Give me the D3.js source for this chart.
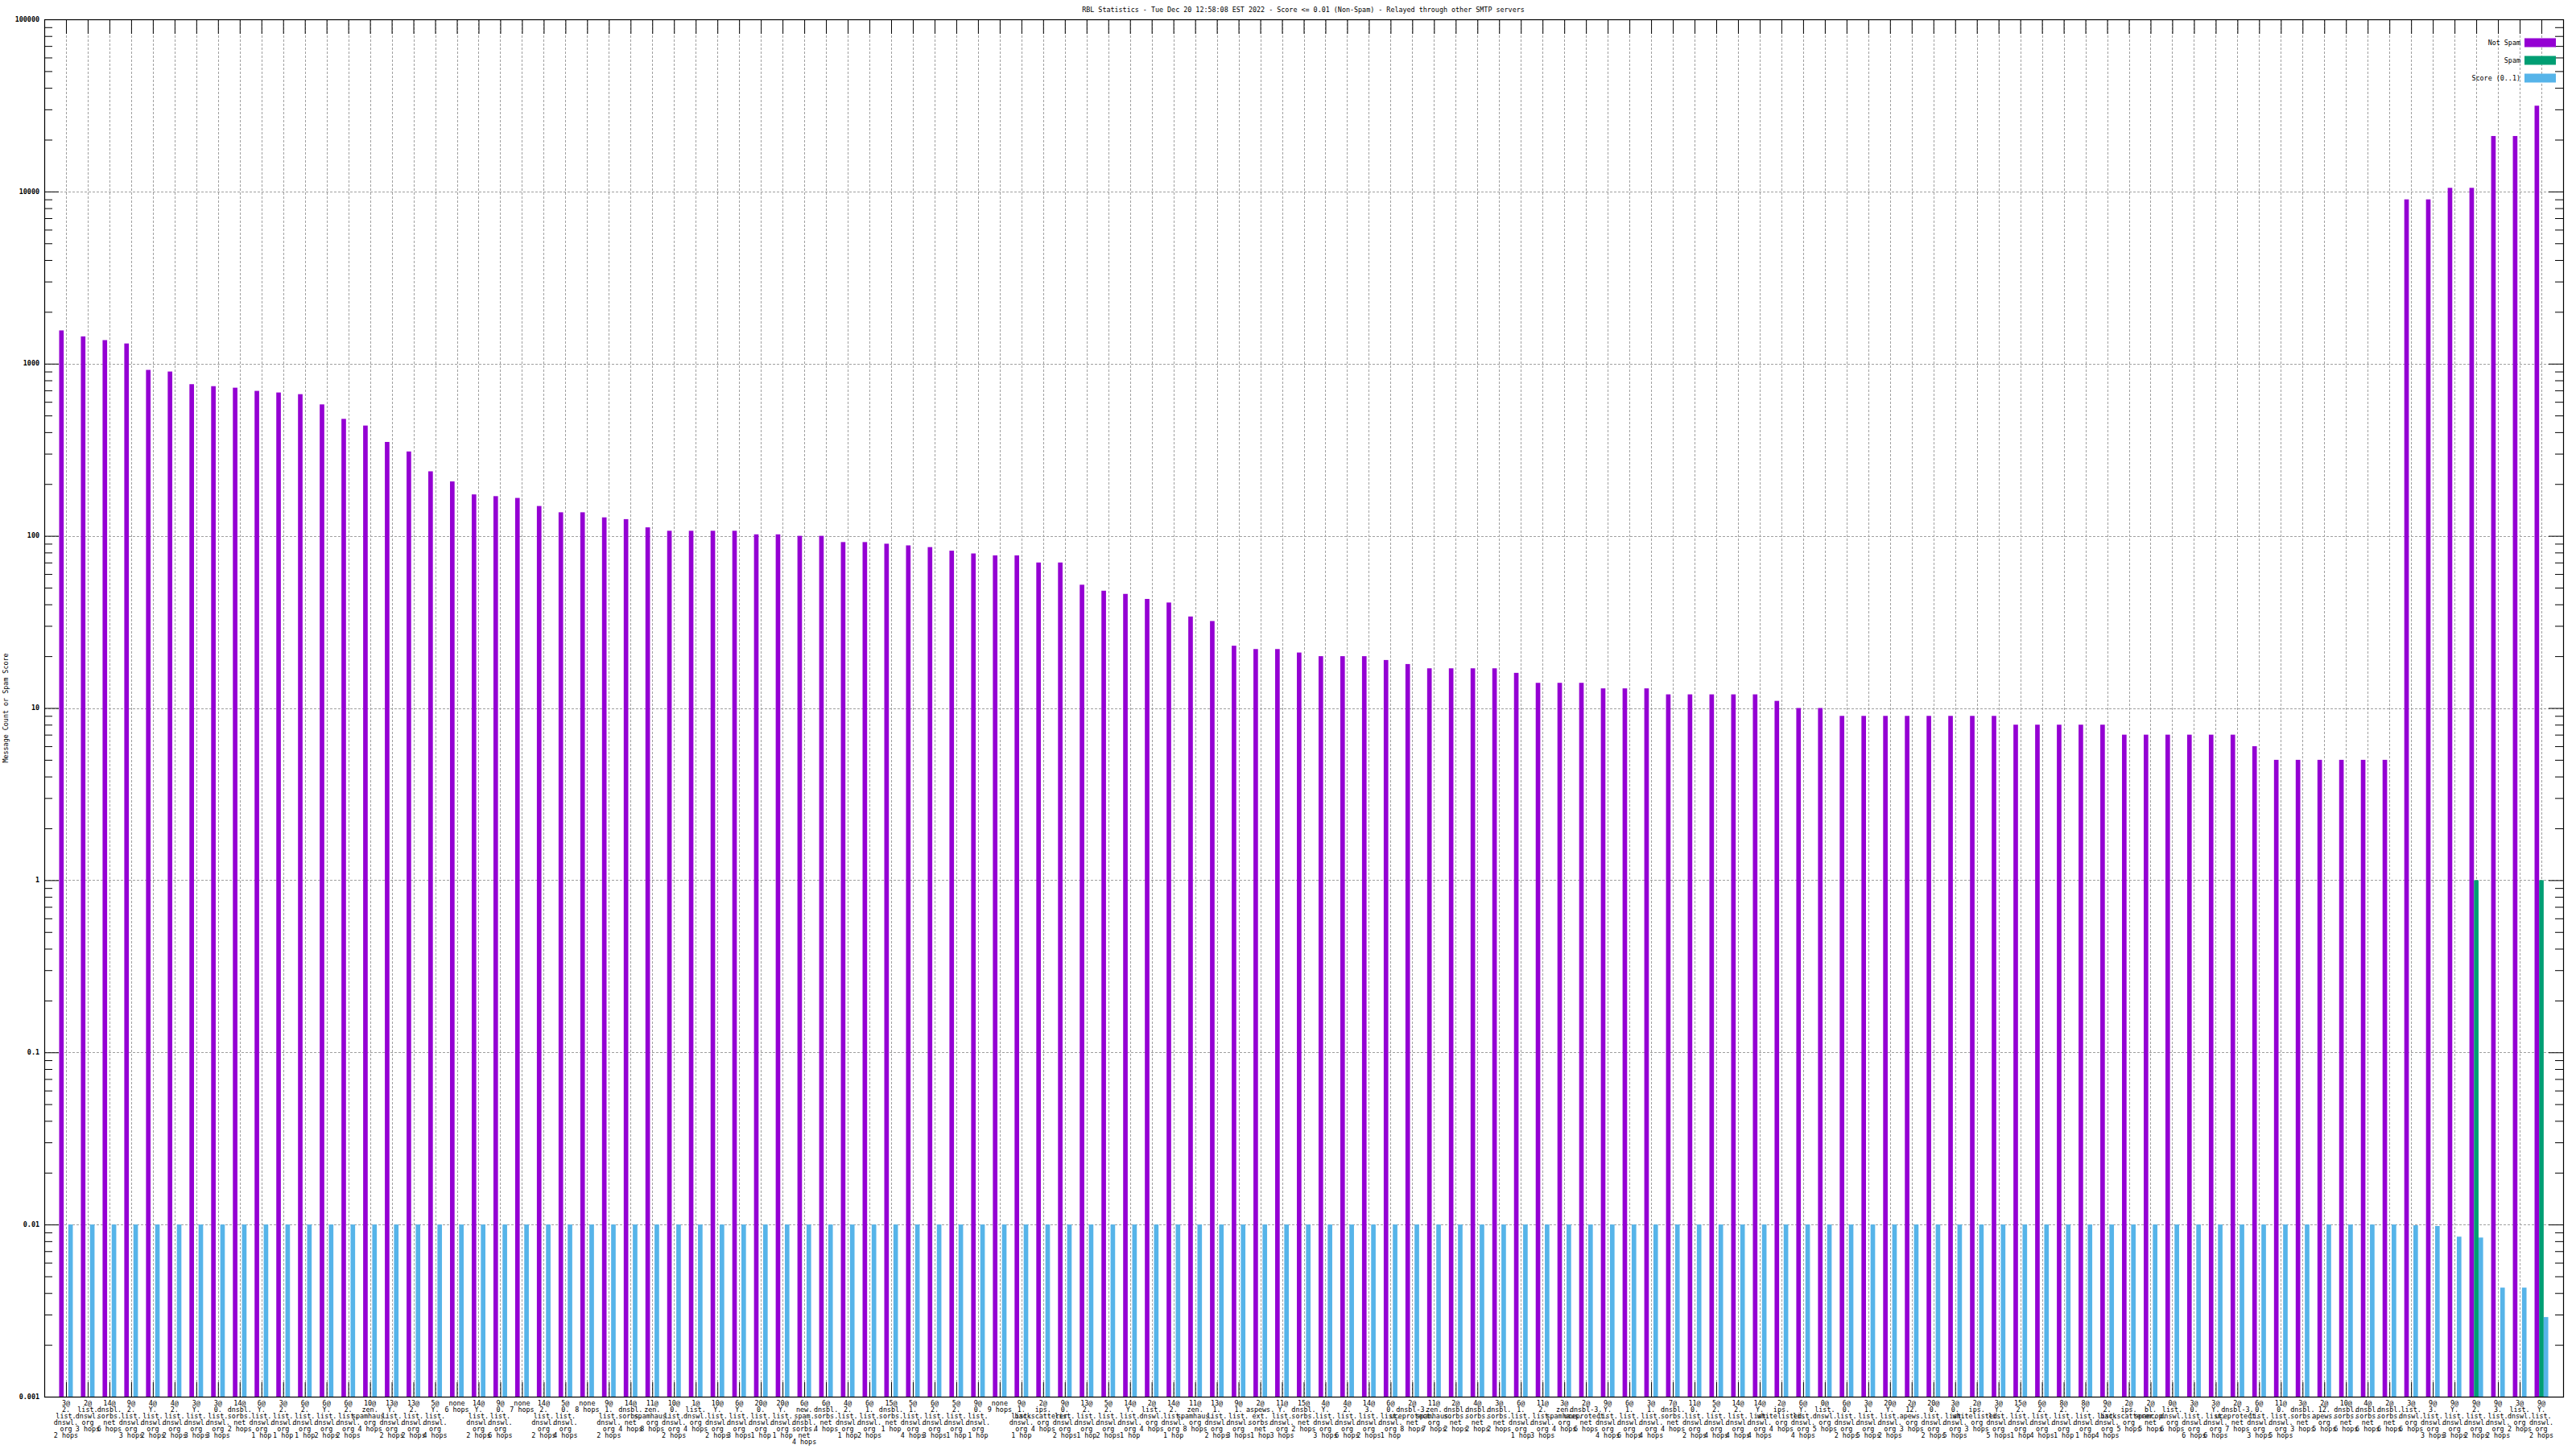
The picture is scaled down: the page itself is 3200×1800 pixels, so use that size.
<!DOCTYPE html>
<html><head><meta charset="utf-8">
<script src="https://cdn.jsdelivr.net/npm/d3@7"></script>
<style>
body{margin:0;background:#fff}
svg{display:block}
text{font-family:"DejaVu Sans Mono",monospace;font-size:8.4px;fill:#000}
</style>
</head><body>
<svg id="c" width="3200" height="1800"></svg>
<script>
const titleText = "RBL Statistics - Tue Dec 20 12:58:08 EST 2022 - Score <= 0.01 (Non-Spam) - Relayed through other SMTP servers";
const yAxisTitle = "Message Count or Spam Score";

const categories = [
"3@ 2.list.dnswl.org 2 hops","2@ list.dnswl.org 3 hops","14@ dnsbl.sorbs.net 6 hops","9@ 2.list.dnswl.org 3 hops",
"4@ Y.list.dnswl.org 2 hops","4@ 2.list.dnswl.org 2 hops","3@ Y.list.dnswl.org 3 hops","3@ 0.list.dnswl.org 3 hops",
"14@ dnsbl.sorbs.net 2 hops","6@ Y.list.dnswl.org 1 hop","3@ 2.list.dnswl.org 1 hop","6@ 2.list.dnswl.org 1 hop",
"6@ Y.list.dnswl.org 2 hops","6@ 2.list.dnswl.org 2 hops","10@ zen.spamhaus.org 4 hops","13@ Y.list.dnswl.org 2 hops",
"13@ 2.list.dnswl.org 2 hops","5@ Y.list.dnswl.org 4 hops","none 6 hops","14@ Y.list.dnswl.org 2 hops",
"9@ 0.list.dnswl.org 6 hops","none 7 hops","14@ 2.list.dnswl.org 2 hops","5@ 0.list.dnswl.org 4 hops",
"none 8 hops","9@ 1.list.dnswl.org 2 hops","14@ dnsbl.sorbs.net 4 hops","11@ zen.spamhaus.org 8 hops",
"10@ 0.list.dnswl.org 2 hops","1@ list.dnswl.org 4 hops","10@ Y.list.dnswl.org 2 hops","6@ Y.list.dnswl.org 3 hops",
"20@ 0.list.dnswl.org 1 hop","20@ Y.list.dnswl.org 1 hop","6@ new.spam.dnsbl.sorbs.net 4 hops","6@ dnsbl.sorbs.net 4 hops",
"4@ 2.list.dnswl.org 1 hop","6@ 1.list.dnswl.org 2 hops","15@ dnsbl.sorbs.net 1 hop","5@ 1.list.dnswl.org 4 hops",
"6@ 2.list.dnswl.org 3 hops","5@ 2.list.dnswl.org 1 hop","9@ 0.list.dnswl.org 1 hop","none 9 hops",
"9@ 1.list.dnswl.org 1 hop","2@ ips.backscatterer.org 4 hops","9@ 0.list.dnswl.org 2 hops","13@ 2.list.dnswl.org 1 hop",
"5@ 2.list.dnswl.org 2 hops","14@ Y.list.dnswl.org 1 hop","2@ list.dnswl.org 4 hops","14@ 2.list.dnswl.org 1 hop",
"11@ zen.spamhaus.org 8 hops","13@ 1.list.dnswl.org 2 hops","9@ 1.list.dnswl.org 3 hops","2@ aspews.ext.sorbs.net 1 hop",
"11@ Y.list.dnswl.org 3 hops","15@ dnsbl.sorbs.net 2 hops","4@ Y.list.dnswl.org 3 hops","4@ 2.list.dnswl.org 6 hops",
"14@ 3.list.dnswl.org 2 hops","6@ 0.list.dnswl.org 1 hop","2@ dnsbl-3.uceprotect.net 8 hops","11@ zen.spamhaus.org 7 hops",
"2@ dnsbl.sorbs.net 2 hops","4@ dnsbl.sorbs.net 2 hops","3@ dnsbl.sorbs.net 2 hops","6@ 1.list.dnswl.org 1 hop",
"11@ 2.list.dnswl.org 3 hops","3@ zen.spamhaus.org 4 hops","2@ dnsbl-3.uceprotect.net 6 hops","9@ Y.list.dnswl.org 4 hops",
"6@ 1.list.dnswl.org 6 hops","3@ 1.list.dnswl.org 4 hops","7@ dnsbl.sorbs.net 4 hops","11@ 0.list.dnswl.org 2 hops",
"5@ 2.list.dnswl.org 4 hops","14@ 2.list.dnswl.org 4 hops","14@ Y.list.dnswl.org 4 hops","2@ ips.whitelisted.org 4 hops",
"6@ Y.list.dnswl.org 4 hops","0@ list.dnswl.org 5 hops","6@ 0.list.dnswl.org 2 hops","3@ 1.list.dnswl.org 5 hops",
"20@ Y.list.dnswl.org 2 hops","2@ 12.apews.org 3 hops","20@ 0.list.dnswl.org 2 hops","3@ 0.list.dnswl.org 5 hops",
"2@ ips.whitelisted.org 3 hops","3@ Y.list.dnswl.org 5 hops","15@ 2.list.dnswl.org 1 hop","6@ 2.list.dnswl.org 4 hops",
"8@ 2.list.dnswl.org 1 hop","8@ Y.list.dnswl.org 1 hop","9@ 2.list.dnswl.org 4 hops","2@ ips.backscatterer.org 5 hops",
"2@ bl.spamcop.net 5 hops","0@ list.dnswl.org 6 hops","3@ 0.list.dnswl.org 6 hops","3@ Y.list.dnswl.org 6 hops",
"2@ dnsbl-3.uceprotect.net 7 hops","6@ 0.list.dnswl.org 3 hops","11@ 0.list.dnswl.org 5 hops","3@ dnsbl.sorbs.net 3 hops",
"2@ 12.apews.org 5 hops","10@ dnsbl.sorbs.net 6 hops","4@ dnsbl.sorbs.net 6 hops","2@ dnsbl.sorbs.net 6 hops",
"3@ list.dnswl.org 6 hops","9@ 3.list.dnswl.org 3 hops","9@ Y.list.dnswl.org 3 hops","9@ 2.list.dnswl.org 2 hops",
"9@ 3.list.dnswl.org 2 hops","3@ list.dnswl.org 2 hops","9@ Y.list.dnswl.org 2 hops"
];

const notSpam = [
1560,1440,1370,1310,920,900,760,740,725,695,680,665,580,478,437,351,309,237,207,174,
170,166,149,137,137,128,125,112,107,107,107,107,102,102,100,100,92,92,90,88,
86,82,79,77,77,70,70,52,48,46,43,41,34,32,23,22,22,21,20,20,
20,19,18,17,17,17,17,16,14,14,14,13,13,13,12,12,12,12,12,11,
10,10,9,9,9,9,9,9,9,9,8,8,8,8,8,7,7,7,7,7,
7,6,5,5,5,5,5,5,9000,9000,10500,10500,21000,21000,31500
];

const spam = [
0,0,0,0,0,0,0,0,0,0,0,0,0,0,0,0,0,0,0,0,
0,0,0,0,0,0,0,0,0,0,0,0,0,0,0,0,0,0,0,0,
0,0,0,0,0,0,0,0,0,0,0,0,0,0,0,0,0,0,0,0,
0,0,0,0,0,0,0,0,0,0,0,0,0,0,0,0,0,0,0,0,
0,0,0,0,0,0,0,0,0,0,0,0,0,0,0,0,0,0,0,0,
0,0,0,0,0,0,0,0,0,0,0,1,0,0,1
];

const score = [
0.01,0.01,0.01,0.01,0.01,0.01,0.01,0.01,0.01,0.01,0.01,0.01,0.01,0.01,0.01,0.01,0.01,0.01,0.01,0.01,
0.01,0.01,0.01,0.01,0.01,0.01,0.01,0.01,0.01,0.01,0.01,0.01,0.01,0.01,0.01,0.01,0.01,0.01,0.01,0.01,
0.01,0.01,0.01,0.01,0.01,0.01,0.01,0.01,0.01,0.01,0.01,0.01,0.01,0.01,0.01,0.01,0.01,0.01,0.01,0.01,
0.01,0.01,0.01,0.01,0.01,0.01,0.01,0.01,0.01,0.01,0.01,0.01,0.01,0.01,0.01,0.01,0.01,0.01,0.01,0.01,
0.01,0.01,0.01,0.01,0.01,0.01,0.01,0.01,0.01,0.01,0.01,0.01,0.01,0.01,0.01,0.01,0.01,0.01,0.01,0.01,
0.01,0.01,0.01,0.01,0.01,0.01,0.01,0.01,0.0099,0.0098,0.0085,0.0084,0.0043,0.0043,0.0029
];

const yTickValues = [0.001,0.01,0.1,1,10,100,1000,10000,100000];
const yTickLabels = ["0.001","0.01","0.1","1","10","100","1000","10000","100000"];
const seriesNames = ["Not Spam","Spam","Score (0..1)"];
const seriesColors = ["#9400d3","#009e73","#56b4e9"];

const svg = d3.select("#c");
const L = 55, R = 3184, T = 24, B = 1735;
const n = categories.length;
const x = d3.scaleLinear().domain([-1, n]).range([L, R]);
const y = d3.scaleLog().domain([0.001, 100000]).range([B, T]);
const step = x(1) - x(0);
const bw = step * 0.21;
const minorTicks = d3.range(-3,5).flatMap(e => [2,3,4,5,6,7,8,9].map(m => m*Math.pow(10,e)));

// grid
const grid = svg.append("g").attr("stroke","#a0a0a0").attr("stroke-width",1).attr("stroke-dasharray","3,2");
yTickValues.forEach(v => {
  if (v > 0.001 && v < 100000)
    grid.append("line").attr("x1",L).attr("x2",R).attr("y1",Math.round(y(v))+0.5).attr("y2",Math.round(y(v))+0.5);
});
categories.forEach((c,i) => {
  const cx = Math.round(x(i))+0.5;
  grid.append("line").attr("x1",cx).attr("x2",cx).attr("y1",T).attr("y2",B);
});

function styleAxis(g){ g.select(".domain").remove(); g.selectAll("line").attr("stroke","#000"); }

// y ticks (minor and major, both sides)
svg.append("g").attr("transform",`translate(${L},0)`).call(d3.axisRight(y).tickValues(minorTicks).tickSize(10).tickFormat("")).call(styleAxis);
svg.append("g").attr("transform",`translate(${R},0)`).call(d3.axisLeft(y).tickValues(minorTicks).tickSize(10).tickFormat("")).call(styleAxis);
svg.append("g").attr("transform",`translate(${L},0)`).call(d3.axisRight(y).tickValues(yTickValues).tickSize(18).tickFormat("")).call(styleAxis);
svg.append("g").attr("transform",`translate(${R},0)`).call(d3.axisLeft(y).tickValues(yTickValues).tickSize(18).tickFormat("")).call(styleAxis);

// x ticks top and bottom
const xIdx = d3.range(n);
svg.append("g").attr("transform",`translate(0,${T})`).call(d3.axisBottom(x).tickValues(xIdx).tickSize(18).tickFormat("")).call(styleAxis);
svg.append("g").attr("transform",`translate(0,${B})`).call(d3.axisTop(x).tickValues(xIdx).tickSize(18).tickFormat("")).call(styleAxis);

// bars
const series = [notSpam, spam, score];
series.forEach((vals, s) => {
  const data = vals.map((v,i) => ({v, i})).filter(d => d.v > 0);
  svg.append("g").selectAll("rect").data(data).join("rect")
    .attr("x", d => x(d.i) - 1.5*bw + s*bw)
    .attr("width", bw)
    .attr("y", d => y(d.v))
    .attr("height", d => B - y(d.v))
    .attr("fill", seriesColors[s]);
});

// y tick labels
svg.append("g").selectAll("text").data(yTickValues).join("text")
  .attr("x", L - 6).attr("y", d => y(d)).attr("dy","0.32em")
  .attr("text-anchor","end").attr("font-weight","bold")
  .text((d,i) => yTickLabels[i]);

// border
svg.append("rect").attr("x",L+0.5).attr("y",T+0.5).attr("width",R-L).attr("height",B-T)
  .attr("fill","none").attr("stroke","#000").attr("stroke-width",1.2);

// x labels
function labelLines(s){
  const parts = s.split(" ");
  if (parts[0] === "none") return ["none", parts.slice(1).join(" ")];
  return [parts[0]].concat(parts[1].match(/[^.]+\.?/g)).concat([parts.slice(2).join(" ")]);
}
const xl = svg.append("g");
categories.forEach((c,i) => {
  const t = xl.append("text").attr("text-anchor","middle").attr("x", x(i)).attr("y", B + 11);
  labelLines(c).forEach((ln,k) => {
    t.append("tspan").attr("x", x(i)).attr("dy", k === 0 ? 0 : 8).text(ln);
  });
});

// title
svg.append("text").attr("x",1619).attr("y",15).attr("text-anchor","middle").text(titleText);

// y axis title
svg.append("text").attr("transform",`translate(10,${(T+B)/2}) rotate(-90)`).attr("text-anchor","middle").text(yAxisTitle);

// legend
const lg = svg.append("g");
seriesNames.forEach((nm,k) => {
  const cy = 53 + k*22;
  lg.append("text").attr("x",3131).attr("y",cy).attr("dy","0.32em").attr("text-anchor","end").text(nm);
  lg.append("rect").attr("x",3136).attr("y",cy-5.5).attr("width",39).attr("height",11).attr("fill",seriesColors[k]);
});
</script>
</body></html>
